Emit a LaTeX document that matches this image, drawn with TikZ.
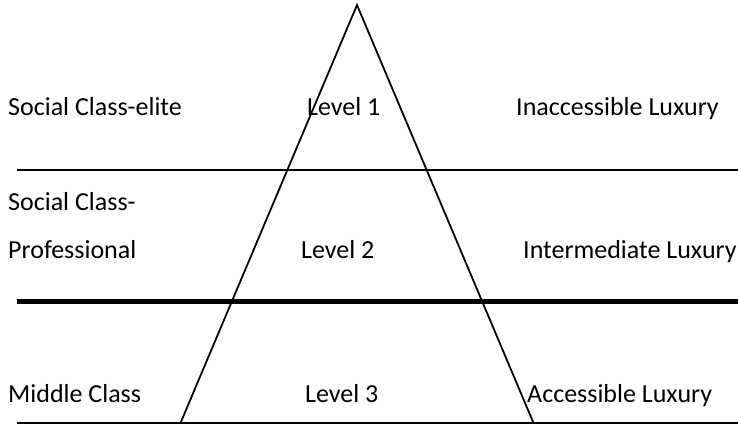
\documentclass[tikz,border=0pt]{standalone}
\usepackage{fontspec}
\setmainfont{Carlito}
\begin{document}
\begin{tikzpicture}[x=1pt,y=-1pt,
  lbl/.style={anchor=base west,inner sep=0pt,font=\fontsize{26}{31}\selectfont},
  thinline/.style={line width=1.8pt},
  thickline/.style={line width=5pt},
  tri/.style={line width=1.8pt,line join=miter}]
\useasboundingbox (0,0) rectangle (738,424);
% horizontal lines
\coordinate (l1a) at (17,170);
\coordinate (l1b) at (740,170);
\coordinate (l2a) at (17,301);
\coordinate (l2b) at (740,301);
\coordinate (l3a) at (17,423);
\coordinate (l3b) at (740,423);
\draw[thinline] (l1a) -- (l1b);
\draw[thickline] (l2a) -- (l2b);
\draw[thinline] (l3a) -- (l3b);
% triangle
\coordinate (apex) at (357,5);
\coordinate (bl) at (180.5,423);
\coordinate (br) at (533.5,423);
\draw[tri] (bl) -- (apex) -- (br);
% labels
\node[lbl] (sce) at (8,115) {Social Class-elite};
\node[lbl] (lv1) at (307,115) {Level 1};
\node[lbl] (inl) at (516,115) {Inaccessible Luxury};
\node[lbl] (scp) at (8,210) {Social Class-};
\node[lbl] (pro) at (8,258) {Professional};
\node[lbl] (lv2) at (301,258) {Level 2};
\node[lbl] (iml) at (523,258) {Intermediate Luxury};
\node[lbl] (mid) at (8,402) {Middle Class};
\node[lbl] (lv3) at (305,402) {Level 3};
\node[lbl] (acl) at (527,402) {Accessible Luxury};
\end{tikzpicture}
\end{document}
